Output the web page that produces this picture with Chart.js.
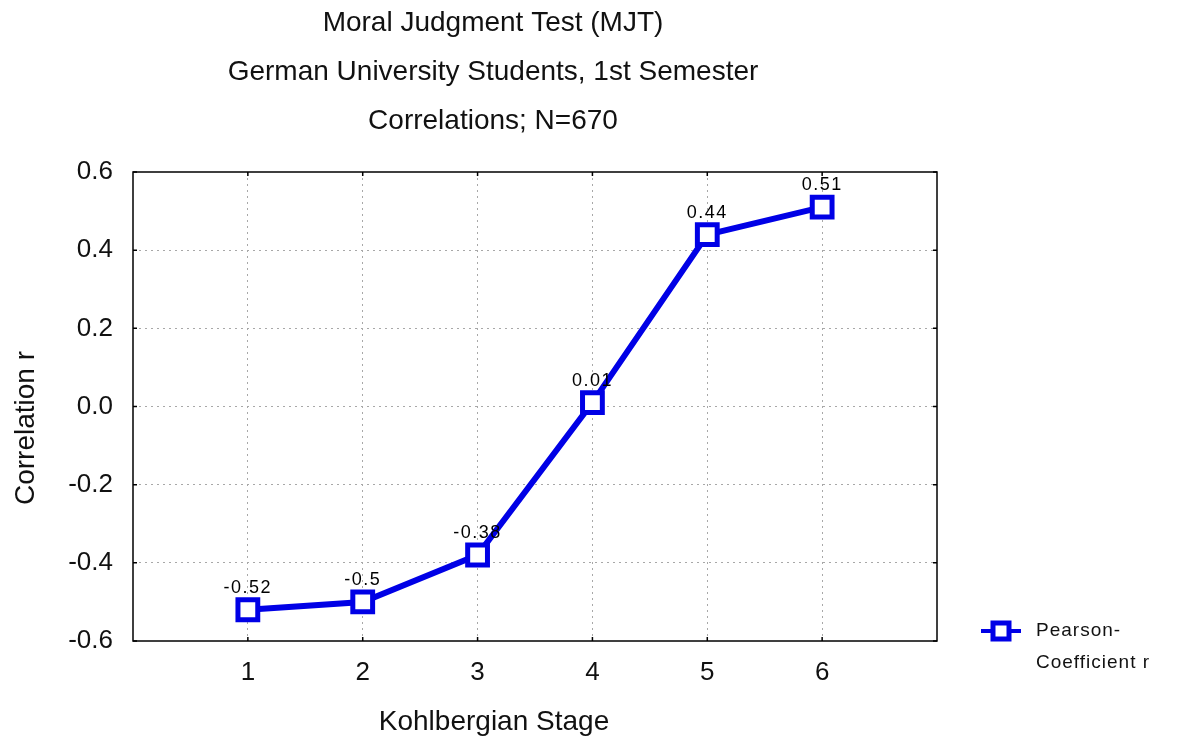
<!DOCTYPE html>
<html>
<head>
<meta charset="utf-8">
<script src="https://cdn.jsdelivr.net/npm/chart.js@4"></script>
<style>
  html, body { margin: 0; padding: 0; background: #fff; }
  #wrap { width: 1178px; height: 742px; }
</style>
</head>
<body>
<div id="wrap"><canvas id="mjtChart"></canvas></div>
<script>
// chart data
const stages = [1, 2, 3, 4, 5, 6];
const pearsonR = [-0.52, -0.50, -0.38, 0.01, 0.44, 0.51];
const valueLabels = ['-0.52', '-0.5', '-0.38', '0.01', '0.44', '0.51'];
const yTicks = [-0.6, -0.4, -0.2, 0.0, 0.2, 0.4, 0.6];
const titleLines = ['Moral Judgment Test (MJT)', 'German University Students, 1st Semester', 'Correlations; N=670'];
const seriesName = ['Pearson-', 'Coefficient r'];
const xTitle = 'Kohlbergian Stage';
const yTitle = 'Correlation r';

const BLUE = '#0000e6';
const FONT = '"Liberation Sans", Arial, sans-serif';

// title, axis titles, frame, inner ticks, value labels and legend
const decorations = {
    id: 'decorations',
    afterDraw(chart) {
        const ctx = chart.ctx;
        const area = chart.chartArea;
        const xs = chart.scales.x;
        const ys = chart.scales.y;
        ctx.save();

        // frame
        ctx.strokeStyle = '#000';
        ctx.lineWidth = 1.5;
        ctx.strokeRect(area.left, area.top, area.right - area.left, area.bottom - area.top);

        // small inward tick marks
        ctx.beginPath();
        stages.forEach(function(s) {
            const px = xs.getPixelForValue(s);
            ctx.moveTo(px, area.bottom); ctx.lineTo(px, area.bottom - 4);
            ctx.moveTo(px, area.top); ctx.lineTo(px, area.top + 4);
        });
        yTicks.forEach(function(v) {
            const py = ys.getPixelForValue(v);
            ctx.moveTo(area.left, py); ctx.lineTo(area.left + 4, py);
            ctx.moveTo(area.right, py); ctx.lineTo(area.right - 4, py);
        });
        ctx.stroke();

        // value labels above points
        ctx.fillStyle = '#000';
        ctx.font = '18px ' + FONT;
        ctx.letterSpacing = '1.5px';
        ctx.textAlign = 'center';
        ctx.textBaseline = 'middle';
        chart.getDatasetMeta(0).data.forEach(function(pt, i) {
            ctx.fillText(valueLabels[i], pt.x, pt.y - 22);
        });

        // titles
        ctx.letterSpacing = '0px';
        ctx.font = '28px ' + FONT;
        ctx.fillStyle = '#111';
        titleLines.forEach(function(t, i) {
            ctx.fillText(t, 493, 23 + i * 49);
        });
        ctx.fillText(xTitle, 494, 722);

        ctx.save();
        ctx.translate(26, 428);
        ctx.rotate(-Math.PI / 2);
        ctx.fillText(yTitle, 0, 0);
        ctx.restore();

        // legend
        const lx = 1001, ly = 631;
        ctx.strokeStyle = BLUE;
        ctx.lineWidth = 4;
        ctx.beginPath();
        ctx.moveTo(lx - 20, ly); ctx.lineTo(lx + 20, ly);
        ctx.stroke();
        ctx.lineWidth = 5;
        ctx.fillStyle = '#fff';
        ctx.fillRect(lx - 8, ly - 8, 16, 16);
        ctx.strokeRect(lx - 8, ly - 8, 16, 16);
        ctx.fillStyle = '#111';
        ctx.font = '19px ' + FONT;
        ctx.letterSpacing = '1px';
        ctx.textAlign = 'left';
        ctx.fillText(seriesName[0], 1036, ly);
        ctx.fillText(seriesName[1], 1036, ly + 32);
        ctx.restore();
    }
};

const ctxEl = document.getElementById('mjtChart');
new Chart(ctxEl, {
    type: 'line',
    data: {
        datasets: [{
            label: seriesName.join(' '),
            data: stages.map(function(s, i) { return { x: s, y: pearsonR[i] }; }),
            borderColor: BLUE,
            borderWidth: 6,
            backgroundColor: '#fff',
            pointStyle: 'rect',
            pointRadius: 14,
            pointHoverRadius: 14,
            pointBorderWidth: 5,
            pointBorderColor: BLUE,
            pointBackgroundColor: '#fff',
            tension: 0
        }]
    },
    plugins: [decorations],
    options: {
        responsive: true,
        maintainAspectRatio: false,
        animation: false,
        layout: {
            padding: { top: 172, right: 241, bottom: 0, left: 0 }
        },
        scales: {
            x: {
                type: 'linear',
                min: 0,
                max: 7,
                afterFit: function(scale) { scale.height = 101; },
                afterBuildTicks: function(scale) {
                    scale.ticks = stages.map(function(s) { return { value: s }; });
                },
                ticks: {
                    color: '#111',
                    font: { family: FONT, size: 26 },
                    padding: 16
                },
                grid: {
                    color: '#a8a8a8',
                    lineWidth: 1,
                    drawTicks: false
                },
                border: { display: false, dash: [2, 4] }
            },
            y: {
                min: -0.6,
                max: 0.6,
                afterFit: function(scale) { scale.width = 133; },
                afterBuildTicks: function(scale) {
                    scale.ticks = yTicks.map(function(v) { return { value: v }; });
                },
                ticks: {
                    color: '#111',
                    font: { family: FONT, size: 26 },
                    padding: 20,
                    callback: function(v) { return v.toFixed(1); }
                },
                grid: {
                    color: function(c) {
                        return (c.tick && Math.abs(Math.abs(c.tick.value) - 0.6) < 1e-6) ? 'rgba(0,0,0,0)' : '#a8a8a8';
                    },
                    lineWidth: 1,
                    drawTicks: false
                },
                border: { display: false, dash: [2, 4] }
            }
        },
        plugins: {
            legend: { display: false },
            tooltip: { enabled: false },
            title: { display: false }
        }
    }
});
</script>
</body>
</html>
